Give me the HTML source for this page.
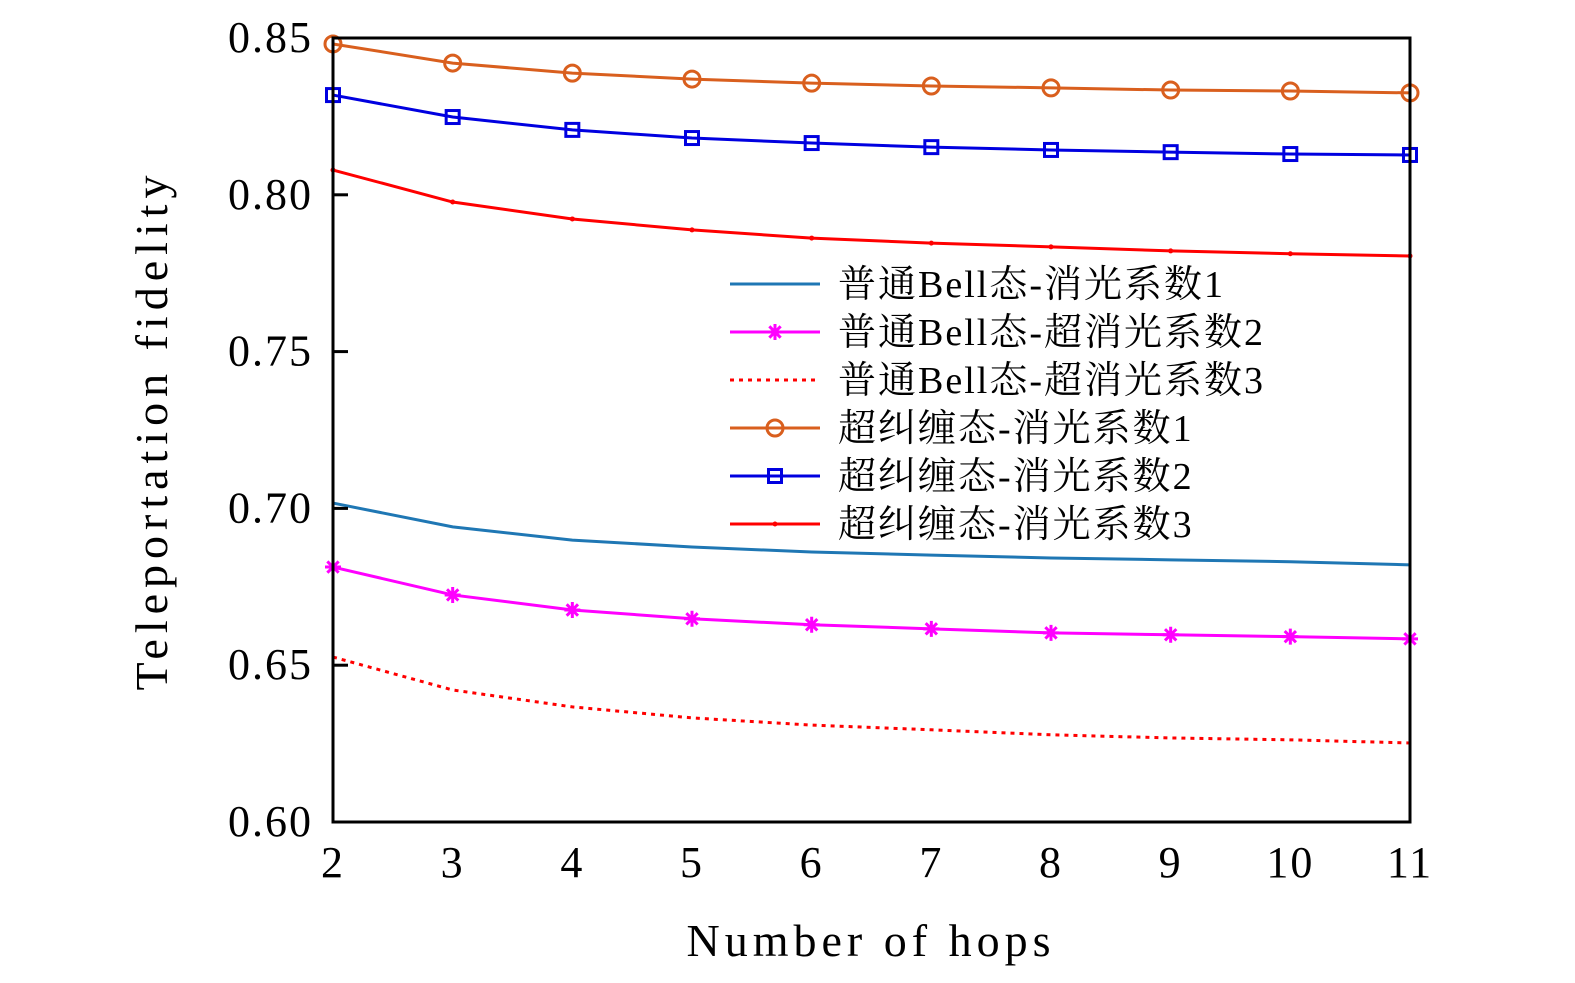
<!DOCTYPE html>
<html><head><meta charset="utf-8"><style>
html,body{margin:0;padding:0;background:#fff;}
svg{display:block;}
text{font-family:"Liberation Serif","Noto Serif CJK SC",serif;}
</style></head><body>
<svg id="chart" width="1575" height="983" viewBox="0 0 1575 983" xmlns="http://www.w3.org/2000/svg">
<g id="grid"></g>
<g id="series"></g>
<rect x="333" y="38" width="1077" height="784" fill="none" stroke="#000" stroke-width="3"/>
<g id="axes"></g>
<text x="871" y="956" font-size="46" text-anchor="middle" letter-spacing="5">Number of hops</text>
<text x="0" y="0" font-size="46" text-anchor="middle" letter-spacing="6" transform="translate(167,430) rotate(-90)">Teleportation fidelity</text>
<g id="legend"></g>
</svg>
<script>
const hops = [2,3,4,5,6,7,8,9,10,11];
const yTicks = [0.60,0.65,0.70,0.75,0.80,0.85];
const bellLoss1 = [0.7017,0.6941,0.6899,0.6877,0.6861,0.6851,0.6842,0.6836,0.6830,0.6820];
const bellLoss2 = [0.6813,0.6724,0.6676,0.6648,0.6629,0.6616,0.6603,0.6597,0.6591,0.6584];
const bellLoss3 = [0.6526,0.6421,0.6367,0.6332,0.6309,0.6294,0.6278,0.6268,0.6262,0.6252];
const hyperLoss1 = [0.8481,0.8420,0.8388,0.8369,0.8356,0.8347,0.8341,0.8334,0.8331,0.8325];
const hyperLoss2 = [0.8318,0.8248,0.8207,0.8181,0.8165,0.8152,0.8143,0.8136,0.8130,0.8127];
const hyperLoss3 = [0.8079,0.7977,0.7923,0.7888,0.7862,0.7846,0.7834,0.7821,0.7812,0.7805];
const legendLabels = ["普通Bell态-消光系数1","普通Bell态-超消光系数2","普通Bell态-超消光系数3","超纠缠态-消光系数1","超纠缠态-消光系数2","超纠缠态-消光系数3"];

const NS="http://www.w3.org/2000/svg";
const X0=333,X1=1410,Y0=822,Y1=38;
function xs(v){return X0+(v-2)/(11-2)*(X1-X0);}
function ys(v){return Y0-(v-0.60)/(0.85-0.60)*(Y0-Y1);}
function mk(tag,attrs,parent){const e=document.createElementNS(NS,tag);for(const k in attrs)e.setAttribute(k,attrs[k]);parent.appendChild(e);return e;}

const axes=document.getElementById('axes');
yTicks.forEach(t=>{
  const l=mk('line',{x1:X0,x2:X0+15,y1:ys(t),y2:ys(t),stroke:'#000','stroke-width':3},axes);
  
  
  const tx=mk('text',{x:X0-20,y:ys(t)+14,'font-size':44,'text-anchor':'end','letter-spacing':2},axes);
  tx.textContent=t.toFixed(2);
  
  
});
hops.forEach(h=>{
  const tx=mk('text',{x:xs(h),y:877,'font-size':44,'text-anchor':'middle','letter-spacing':2},axes);
  tx.textContent=String(h);
  
  
});

const seriesDefs=[
 {data:bellLoss1,color:'#1f77b4',dash:null,marker:'none',name:'bell-loss1'},
 {data:bellLoss2,color:'#ff00ff',dash:null,marker:'star',name:'bell-loss2'},
 {data:bellLoss3,color:'#ff0000',dash:'4,5',marker:'none',name:'bell-loss3'},
 {data:hyperLoss1,color:'#d95f1e',dash:null,marker:'circle',name:'hyper-loss1'},
 {data:hyperLoss2,color:'#0000e0',dash:null,marker:'square',name:'hyper-loss2'},
 {data:hyperLoss3,color:'#ff0000',dash:null,marker:'dot',name:'hyper-loss3'}
];
function marker(type,x,y,color,g){
  let e=null;
  if(type==='circle') e=mk('circle',{cx:x,cy:y,r:8,fill:'none',stroke:color,'stroke-width':3},g);
  else if(type==='square') e=mk('rect',{x:x-6.5,y:y-6.5,width:13,height:13,fill:'none',stroke:color,'stroke-width':3},g);
  else if(type==='dot') e=mk('circle',{cx:x,cy:y,r:2.5,fill:color},g);
  else if(type==='star'){
    let d='';for(let a=0;a<4;a++){const an=a*Math.PI/4;const dx=8*Math.cos(an),dy=8*Math.sin(an);d+=`M${x-dx},${y-dy}L${x+dx},${y+dy}`;}
    e=mk('path',{d:d,stroke:color,'stroke-width':3,fill:'none'},g);
  }
  return e;
}
const sg=document.getElementById('series');
seriesDefs.forEach(s=>{
  const g=mk('g',{},sg);
  
  
  const pts=s.data.map((v,i)=>xs(hops[i])+','+ys(v)).join(' ');
  const pl=mk('polyline',{points:pts,fill:'none',stroke:s.color,'stroke-width':3},g);
  if(s.dash) pl.setAttribute('stroke-dasharray',s.dash);
  
  
  s.data.forEach((v,i)=>{
    const m=marker(s.marker,xs(hops[i]),ys(v),s.color,g);
    if(m){
      
      
    }
  });
});

const lg=document.getElementById('legend');
seriesDefs.forEach((s,i)=>{
  const y=284+i*48;
  const g=mk('g',{},lg);
  
  
  const l=mk('line',{x1:730,x2:820,y1:y,y2:y,stroke:s.color,'stroke-width':3},g);
  if(s.dash) l.setAttribute('stroke-dasharray',s.dash);
  marker(s.marker,775,y,s.color,g);
  const t=mk('text',{x:838,y:y+13,'font-size':38,'letter-spacing':2},g);
  t.textContent=legendLabels[i];
});
</script>
</body></html>
